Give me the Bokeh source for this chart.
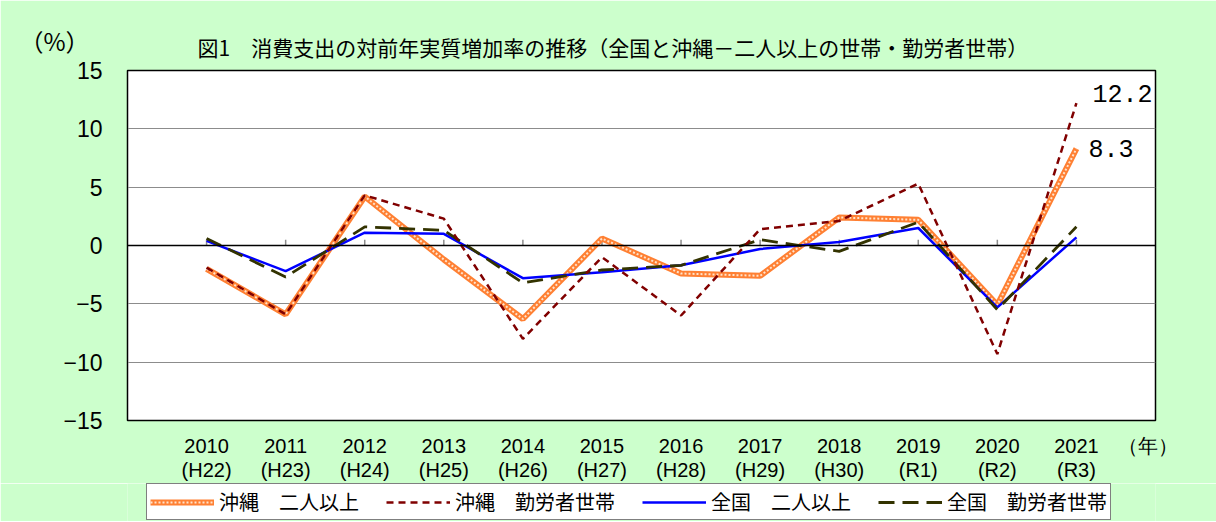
from bokeh.plotting import figure
from bokeh.layouts import column
from bokeh.models import (Range1d, FixedTicker, Span, Legend, LegendItem,
                          ColumnDataSource, Title)
from bokeh.core.properties import value
from bokeh.embed import file_html
from bokeh.resources import INLINE

# ---- data ----
years = ["2010", "2011", "2012", "2013", "2014", "2015", "2016", "2017", "2018", "2019", "2020", "2021"]
eras = ["(H22)", "(H23)", "(H24)", "(H25)", "(H26)", "(H27)", "(H28)", "(H29)", "(H30)", "(R1)", "(R2)", "(R3)"]
okinawa_two = [-2.0, -5.9, 4.2, -1.2, -6.3, 0.6, -2.4, -2.6, 2.4, 2.2, -5.1, 8.3]
okinawa_worker = [-1.9, -5.9, 4.3, 2.3, -8.0, -1.0, -6.0, 1.4, 2.1, 5.3, -9.3, 12.2]
national_two = [0.4, -2.2, 1.1, 1.0, -2.8, -2.3, -1.7, -0.3, 0.3, 1.5, -5.3, 0.7]
national_worker = [0.6, -2.7, 1.6, 1.3, -3.2, -2.1, -1.7, 0.5, -0.5, 2.0, -5.5, 1.6]
y_ticks = [-15, -10, -5, 0, 5, 10, 15]
grid_ticks = [-10, -5, 5, 10]
series_names = ["沖縄　二人以上", "沖縄　勤労者世帯", "全国　二人以上", "全国　勤労者世帯"]
title_text = "図1　消費支出の対前年実質増加率の推移（全国と沖縄－二人以上の世帯・勤労者世帯）"
y_unit = "（%）"
x_unit = "（年）"
x_unit_pos = 11.9

idx = list(range(len(years)))
n = len(idx)

CJK = "Noto Sans CJK JP"
NUM = "Liberation Sans"
GREEN = "#CCFFCC"

# series styles (shared by the chart and the legend strip)
ST_O1 = dict(line_color="#FF8033", line_width=6)
ST_O2 = dict(line_color="#FFE3CC", line_width=2, line_dash="2 2")
ST_NT = dict(line_color="#0000FF", line_width=2.5)
ST_NW = dict(line_color="#333300", line_width=2.8, line_dash="16 8")
ST_OW = dict(line_color="#800000", line_width=2.5, line_dash="7 5")

p = figure(frame_width=1028, frame_height=350, output_backend="svg", toolbar_location=None,
           x_range=Range1d(-1, 12), y_range=Range1d(-15, 15),
           min_border_left=127, min_border_right=61, min_border_top=70, min_border_bottom=62)
p.border_fill_color = GREEN
p.background_fill_color = "white"
p.outline_line_color = "black"
p.outline_line_width = 1.5

# unit (%) as the outer title row, main title nearest the frame
p.title.text = y_unit
p.title.align = "left"
p.title.offset = -108
p.title.standoff = -74
p.title.text_font = CJK
p.title.text_font_size = "24px"
p.title.text_font_style = "normal"
p.title.text_color = "black"

t_main = Title(text=title_text, align="left", offset=70, standoff=18,
               text_font=CJK, text_font_size="21px", text_font_style="normal",
               text_color="black")
p.add_layout(t_main, "above")

ticks = idx + [x_unit_pos]
overrides = {i: f"{years[i]}\n{eras[i]}" for i in idx}
overrides[x_unit_pos] = x_unit
p.xaxis.ticker = FixedTicker(ticks=ticks)
p.xaxis.major_label_overrides = overrides
p.xaxis.axis_line_color = None
p.xaxis.major_tick_line_color = None
p.xaxis.minor_tick_line_color = None
p.xaxis.major_label_standoff = 8
p.xaxis.major_label_text_font = NUM
p.xaxis.major_label_text_font_size = "20px"
p.xaxis.major_label_text_line_height = 1.1
p.xaxis.major_label_text_color = "black"

p.yaxis.ticker = FixedTicker(ticks=y_ticks)
p.yaxis.axis_line_color = "black"
p.yaxis.major_tick_line_color = None
p.yaxis.minor_tick_line_color = None
p.yaxis.major_label_standoff = 19
p.yaxis.major_label_text_font = NUM
p.yaxis.major_label_text_font_size = "23px"
p.yaxis.major_label_text_color = "black"

p.xgrid.visible = False
p.ygrid.ticker = FixedTicker(ticks=grid_ticks)
p.ygrid.grid_line_color = "#8c8c8c"
p.ygrid.grid_line_width = 1.2

p.add_layout(Span(location=0, dimension="width", line_color="black", line_width=1.5))
p.segment(x0=idx, y0=[0] * n, x1=idx, y1=[0.5] * n, line_color="#8c8c8c", line_width=1.5)

# series
p.line(idx, okinawa_two, **ST_O1)
p.line(idx, okinawa_two, **ST_O2)
p.line(idx, national_two, **ST_NT)
p.line(idx, national_worker, **ST_NW)
p.line(idx, okinawa_worker, **ST_OW)

# end labels
lab_src = ColumnDataSource(dict(
    x=[idx[-1], idx[-1]],
    y=[okinawa_worker[-1], okinawa_two[-1]],
    t=[f"{okinawa_worker[-1]:.1f}", f"{okinawa_two[-1]:.1f}"],
    xo=[16, 12], yo=[-10, 0],
))
p.text(x="x", y="y", text="t", x_offset="xo", y_offset="yo", source=lab_src,
       text_baseline="middle", text_align="left", text_color="black",
       text_font=value("Liberation Mono"), text_font_size="25px")

# ---- legend strip below the chart (proxy renderers kept out of view) ----
lf = figure(width=1216, height=38, output_backend="svg", toolbar_location=None,
            x_axis_type=None, y_axis_type=None, min_border=0,
            x_range=Range1d(100, 101), y_range=Range1d(100, 101))
lf.grid.visible = False
lf.outline_line_color = None
lf.background_fill_color = GREEN
lf.border_fill_color = GREEN
g_o1 = lf.line(idx, okinawa_two, **ST_O1)
g_o2 = lf.line(idx, okinawa_two, **ST_O2)
g_ow = lf.line(idx, okinawa_worker, **ST_OW)
g_nt = lf.line(idx, national_two, **ST_NT)
g_nw = lf.line(idx, national_worker, **ST_NW)

legend = Legend(items=[
    LegendItem(label=series_names[0], renderers=[g_o1, g_o2]),
    LegendItem(label=series_names[1], renderers=[g_ow]),
    LegendItem(label=series_names[2], renderers=[g_nt]),
    LegendItem(label=series_names[3], renderers=[g_nw]),
], orientation="horizontal", location=(19, 1))
legend.glyph_width = 64
legend.label_standoff = 5
legend.spacing = 27
legend.padding = 3
legend.margin = 0
legend.label_text_font = CJK
legend.label_text_font_size = "20px"
legend.label_text_color = "black"
legend.border_line_color = "black"
legend.border_line_width = 1
legend.background_fill_color = "white"
legend.background_fill_alpha = 1
lf.add_layout(legend, "center")

layout = column(p, lf, spacing=0)

open("out.html", "w").write(file_html(layout, INLINE))
